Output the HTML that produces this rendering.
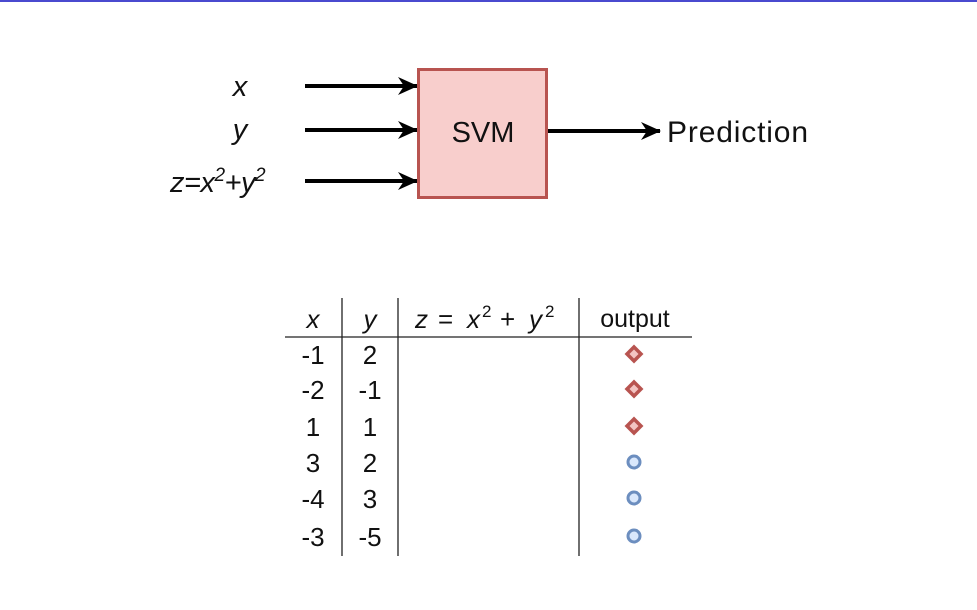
<!DOCTYPE html>
<html><head><meta charset="utf-8"><style>
html,body{margin:0;padding:0;background:#fff;}
svg{display:block;}
text{font-family:"Liberation Sans",sans-serif;fill:#111;}
</style></head><body>
<svg width="977" height="610" viewBox="0 0 977 610">
<rect x="0" y="0" width="977" height="2" fill="#4a4acf"/>
<defs>
<marker id="ah2" viewBox="0 0 20 20" markerWidth="20" markerHeight="20" refX="19" refY="10" orient="auto" markerUnits="userSpaceOnUse"><path d="M0,1 L20,10 L0,19 L6,10 Z" fill="#000"/></marker></defs>
<g>
<text x="240" y="96" font-size="29" font-style="italic" text-anchor="middle">x</text>
<text x="240" y="139" font-size="29" font-style="italic" text-anchor="middle">y</text>
<text x="170" y="192" font-size="29" font-style="italic" letter-spacing="-0.5">z=x<tspan dy="-11" font-size="19">2</tspan><tspan dy="11">+y</tspan><tspan dy="-11" font-size="19">2</tspan></text>
<line x1="305" y1="86" x2="417" y2="86" stroke="#000" stroke-width="4" marker-end="url(#ah2)"/>
<line x1="305" y1="130" x2="417" y2="130" stroke="#000" stroke-width="4" marker-end="url(#ah2)"/>
<line x1="305" y1="181" x2="417" y2="181" stroke="#000" stroke-width="4" marker-end="url(#ah2)"/>
<rect x="418.5" y="69.5" width="128" height="128" fill="#f8cecc" stroke="#b85450" stroke-width="3"/>
<text x="483" y="142" font-size="29" text-anchor="middle">SVM</text>
<line x1="548" y1="131" x2="660" y2="131" stroke="#000" stroke-width="4" marker-end="url(#ah2)"/>
<text x="667" y="142" font-size="30" textLength="141">Prediction</text>
</g>
<g>
<line x1="342" y1="298" x2="342" y2="556" stroke="#222" stroke-width="1.3"/>
<line x1="398" y1="298" x2="398" y2="556" stroke="#222" stroke-width="1.3"/>
<line x1="579" y1="298" x2="579" y2="556" stroke="#222" stroke-width="1.3"/>
<line x1="285" y1="337" x2="692" y2="337" stroke="#222" stroke-width="1.3"/>
<text x="313" y="328" font-size="26" font-style="italic" text-anchor="middle">x</text>
<text x="370" y="328" font-size="26" font-style="italic" text-anchor="middle">y</text>
<g>
<text x="415" y="328" font-size="26" font-style="italic">z</text>
<text x="438" y="328" font-size="26">=</text>
<text x="467" y="328" font-size="26" font-style="italic">x</text>
<text x="482" y="317" font-size="17">2</text>
<text x="500" y="328" font-size="26">+</text>
<text x="529" y="328" font-size="26" font-style="italic">y</text>
<text x="545" y="317" font-size="17">2</text>
</g>
<text x="635" y="327" font-size="25" text-anchor="middle">output</text>
<g id="rows"></g>
</g>
</svg>
<script>
const xs=["-1","-2","1","3","-4","-3"];
const ys=["2","-1","1","2","3","-5"];
const outputs=["red","red","red","blue","blue","blue"];
const rowY=[354,389,426,462,498,536];
const g=document.getElementById('rows');
const NS="http://www.w3.org/2000/svg";
for(let i=0;i<xs.length;i++){
  const y=rowY[i];
  const tx=document.createElementNS(NS,'text');
  tx.setAttribute('x',313);tx.setAttribute('y',y+10);tx.setAttribute('font-size',26);tx.setAttribute('text-anchor','middle');tx.textContent=xs[i];
  
  
  g.appendChild(tx);
  const ty=document.createElementNS(NS,'text');
  ty.setAttribute('x',370);ty.setAttribute('y',y+10);ty.setAttribute('font-size',26);ty.setAttribute('text-anchor','middle');ty.textContent=ys[i];
  
  
  g.appendChild(ty);
  let m;
  if(outputs[i]==="red"){
    m=document.createElementNS(NS,'path');
    m.setAttribute('d',`M634,${y-7} L641,${y} L634,${y+7} L627,${y} Z`);
    m.setAttribute('fill','#f3c4c2');m.setAttribute('stroke','#b85450');m.setAttribute('stroke-width',3.5);
    
  } else {
    m=document.createElementNS(NS,'circle');
    m.setAttribute('cx',634);m.setAttribute('cy',y);m.setAttribute('r',6);
    m.setAttribute('fill','#dae8fc');m.setAttribute('stroke','#6c8ebf');m.setAttribute('stroke-width',3);
    
  }
  
  g.appendChild(m);
}
</script>
</body></html>
